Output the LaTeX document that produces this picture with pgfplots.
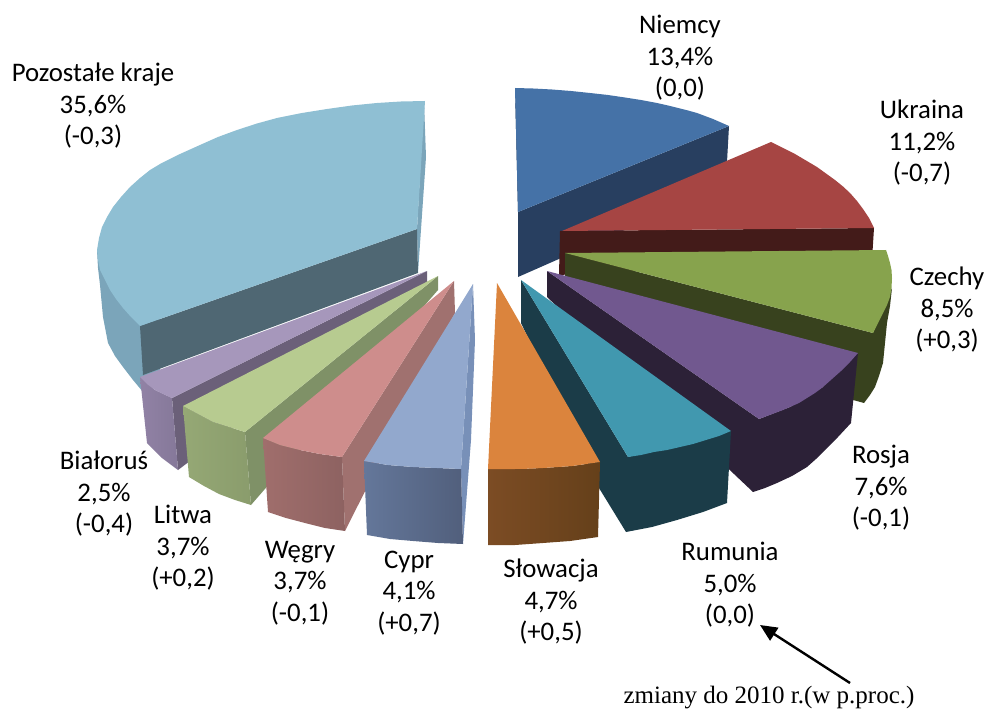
\documentclass[border=0pt]{standalone}
\usepackage{fontspec}
\setmainfont{Carlito}
\newfontfamily\serifann{Liberation Serif}
\usepackage{pgfplots}
\pgfplotsset{compat=1.18}
\usetikzlibrary{arrows.meta}
\definecolor{nT}{HTML}{4572A7}\definecolor{nD}{HTML}{283F60}
\definecolor{uT}{HTML}{A64543}\definecolor{uD}{HTML}{431B19}
\definecolor{cT}{HTML}{87A34D}\definecolor{cD}{HTML}{38421E}
\definecolor{rT}{HTML}{71588F}\definecolor{rD}{HTML}{2C2137}
\definecolor{mT}{HTML}{4198AF}\definecolor{mD}{HTML}{1B3C48}
\definecolor{sT}{HTML}{DB843D}\definecolor{sA}{HTML}{7C4C24}\definecolor{sB}{HTML}{65401A}
\definecolor{pT}{HTML}{8FBFD3}\definecolor{pD}{HTML}{4F6773}\definecolor{pS}{HTML}{7BA5BA}
\definecolor{yT}{HTML}{92A8CD}\definecolor{yS}{HTML}{7890B8}\definecolor{yA}{HTML}{64779A}\definecolor{yB}{HTML}{515F7C}
\definecolor{wT}{HTML}{CE8D8C}\definecolor{wS}{HTML}{A0716F}\definecolor{wA}{HTML}{A06E6C}\definecolor{wB}{HTML}{8D6261}
\definecolor{lT}{HTML}{B7CB90}\definecolor{lS}{HTML}{7F9167}\definecolor{lA}{HTML}{95A875}\definecolor{lB}{HTML}{8A9C6C}
\definecolor{bT}{HTML}{A697BB}\definecolor{bS}{HTML}{6B6079}\definecolor{bA}{HTML}{9182A5}\definecolor{bB}{HTML}{857899}
\newcommand\Pg[2]{\addplot[#1,draw=none,forget plot] coordinates {#2} --cycle;}
\newcommand\Lb[2]{\node[align=center,inner sep=0pt,font=\fontsize{26.8}{31.5}\selectfont] at (axis cs:#1) {#2};}
\begin{document}
\begin{tikzpicture}
\useasboundingbox (0,0) rectangle (987pt,711pt);
\begin{axis}[hide axis,scale only axis,width=987pt,height=711pt,xmin=0,xmax=987,ymin=0,ymax=711,y dir=reverse,clip=false]
% Pozostale kraje
\Pg{fill=pS}{(97,250)(98,268)(100,285)(103,317)(108,343)(115,356)(123,367)(133,380)(143,392)(160,380)(160,320)(130,300)}
\Pg{fill=pS}{(424,101)(426,157)(418,273)(417,229)}
\Pg{fill=pD}{(140,326)(417,229)(418,273)(143,375)}
\Pg{fill=pT}{(425,101)(401,101.5)(377,103)(352,105.5)(327,109)(302,113)(277,118)(257,123.5)(237,130)(218,137)(200,145)(180,154)(160,164)(150,170)(140,178)(130,187)(121,197)(113,207)(107,217)(102,227)(99,238)(97,250)(98,260)(100,270)(105,280)(110,290)(116,299)(123,308)(131,317)(140,326)(417,229)}
% Niemcy
\Pg{fill=nD!80!black}{(515,88)(518,150)(518,212)}
\Pg{fill=nD}{(518,212)(729,126)(727,162)(727,185)(518,277)}
\Pg{fill=nT}{(515,88)(533,88.5)(552,89.5)(571,91)(590,93)(608,95)(625,97.5)(641,100)(657,103)(668,105.5)(678,108)(688,110.5)(697,113)(705,116)(713,119)(721,122.5)(729,126)(518,212)}
% Ukraina
\Pg{fill=uD}{(560,231)(874,228)(872,260)(559,275)}
\Pg{fill=uT}{(562,231)(771,142)(783,148)(795,154)(806,160.5)(817,167)(826,173.5)(835,180)(843,186.5)(850,193)(857,201)(863,209)(869,218)(874,228)}
% Czechy
\Pg{fill=cD}{(565,253)(873,333)(892,288)(890,306)(887,323)(885,343)(883,363)(879,376)(875,387)(870,395)(864,403)(853,400)(565,277)}
\Pg{fill=cT}{(565,253)(886,250)(888,256)(890,263)(891.5,270)(892,278)(891.5,288)(890,297)(887,305)(883,313)(878,323)(873,333)}
% Rosja
\Pg{fill=rD}{(547,271)(759,419)(790,407)(823,387)(858,353)(851,423)(838,437)(825,450)(816,459)(807,467)(792,476)(777,483)(765,488)(753,492)(547,297)}
\Pg{fill=rT}{(547,271)(858,353)(850,362)(841,371)(832,379)(823,387)(815,393)(807,398)(799,403)(790,407)(783,410)(775,413)(767,416)(759,419)}
% Rumunia
\Pg{fill=mD}{(521,280)(521,323)(599,488)(626,532)(652,527)(677,520)(703,512)(727,503)(731,431)(628,457)}
\Pg{fill=mT}{(521,280)(731,431)(719,436)(706,440)(693,444)(680,447)(667,450)(654,452)(641,455)(628,457)}
% Slowacja
\Pg{left color=sA,right color=sB}{(488,469)(515,469)(543,468)(572,466)(600,462)(598,537)(570,541)(543,543)(515,545)(488,545)}
\Pg{fill=sT}{(497,283)(600,462)(586,464)(572,466)(558,467)(543,468)(529,468.7)(515,469)(501,469)(488,469)}
% Bialorus
\Pg{fill=bS}{(427,271)(427,283)(178,470)(172,398)}
\Pg{left color=bA,right color=bB}{(140,377)(147,443)(162,458)(178,470)(172,398)(155,390)}
\Pg{fill=bT}{(427,271)(172,398)(163,394)(155,390)(147,384)(140,377)}
% Litwa
\Pg{fill=lS}{(438,276)(438,290)(251,505)(245,432)}
\Pg{left color=lA,right color=lB}{(183,406)(189,477)(204,486)(219,494)(235,500)(251,505)(245,432)(229,427)(213,422)(198,414)}
\Pg{fill=lT}{(438,276)(245,432)(229,427)(213,422)(198,414)(183,406)}
% Wegry
\Pg{fill=wS}{(454,281)(455,313)(345,531)(342,457)}
\Pg{left color=wA,right color=wB}{(263,438)(268,512)(286,518)(305,523)(325,528)(345,531)(342,457)(320,454)(300,450)(280,445)}
\Pg{fill=wT}{(454,281)(342,457)(320,454)(300,450)(280,445)(263,438)}
% Cypr
\Pg{fill=yS}{(473,284)(475,340)(471,440)(463,544)(461,469)}
\Pg{left color=yA,right color=yB}{(364,461)(367,535)(390,539)(413,541)(438,543)(463,544)(461,469)(437,468)(413,467)(388,465)}
\Pg{fill=yT}{(473,284)(461,469)(437,468)(413,467)(388,465)(364,461)}
% arrow
\addplot[black,line width=2.4pt,-{Triangle[length=17pt,width=15pt]},forget plot] coordinates {(850,683)(760,625)};
% labels
\Lb{680,58}{Niemcy\\13,4\%\\(0,0)}
\Lb{922,143}{Ukraina\\11,2\%\\(-0,7)}
\Lb{947,310}{Czechy\\8,5\%\\(+0,3)}
\Lb{881,488}{Rosja\\7,6\%\\(-0,1)}
\Lb{730,585}{Rumunia\\5,0\%\\(0,0)}
\Lb{551,602}{Słowacja\\4,7\%\\(+0,5)}
\Lb{409,593}{Cypr\\4,1\%\\(+0,7)}
\Lb{300,583}{Węgry\\3,7\%\\(-0,1)}
\Lb{183,548}{Litwa\\3,7\%\\(+0,2)}
\Lb{104,494}{Białoruś\\2,5\%\\(-0,4)}
\Lb{93,106}{Pozostałe kraje\\35,6\%\\(-0,3)}
\node[inner sep=0pt,font=\fontsize{25}{25}\selectfont\serifann] at (axis cs:769,698) {zmiany do 2010 r.(w p.proc.)};
\end{axis}
\end{tikzpicture}
\end{document}
